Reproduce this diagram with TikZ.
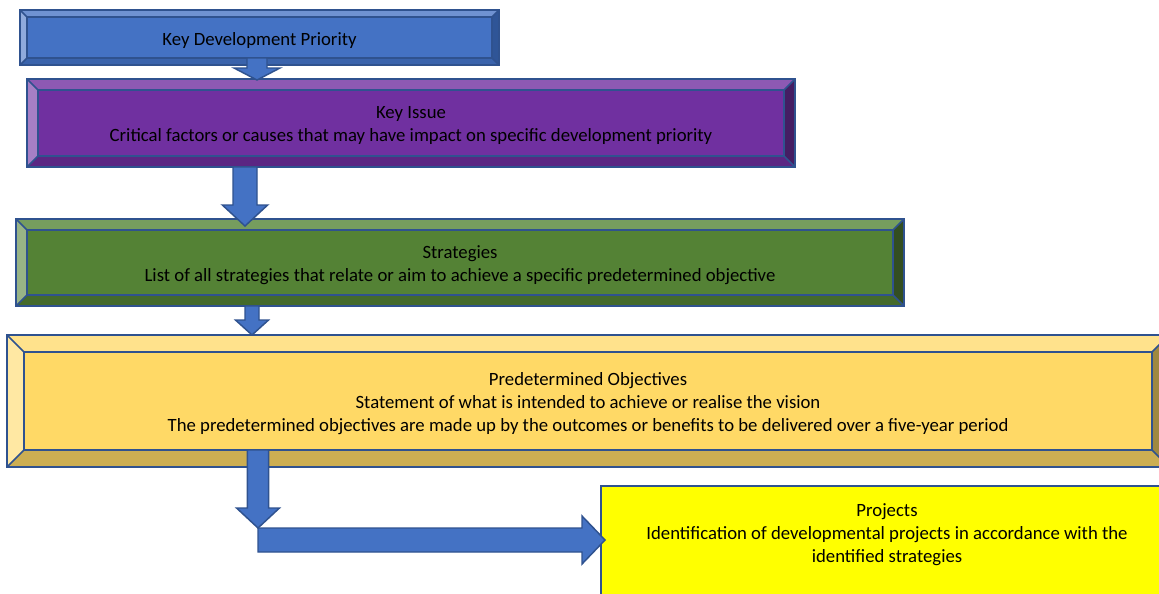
\documentclass[tikz,border=0pt]{standalone}
\usepackage{fontspec}
\setmainfont{Carlito}
\usetikzlibrary{calc}
\definecolor{edge}{HTML}{2F528F}
\definecolor{flowblue}{HTML}{4472C4}
\definecolor{kdpfill}{HTML}{4472C4}
\definecolor{kdptop}{HTML}{6F92D2}
\definecolor{kdpleft}{HTML}{8FAADC}
\definecolor{kdpbottom}{HTML}{3A63AC}
\definecolor{kdpright}{HTML}{2F5597}
\definecolor{issuefill}{HTML}{7030A0}
\definecolor{issuetop}{HTML}{8D59B3}
\definecolor{issueleft}{HTML}{A67FC5}
\definecolor{issuebottom}{HTML}{5B2683}
\definecolor{issueright}{HTML}{451D63}
\definecolor{stratfill}{HTML}{548235}
\definecolor{strattop}{HTML}{769D5E}
\definecolor{stratleft}{HTML}{98B486}
\definecolor{stratbottom}{HTML}{446A2B}
\definecolor{stratright}{HTML}{334E21}
\definecolor{objfill}{HTML}{FFD966}
\definecolor{objtop}{HTML}{FFE28C}
\definecolor{objleft}{HTML}{FFE8A3}
\definecolor{objbottom}{HTML}{CCAE52}
\definecolor{objright}{HTML}{9F8840}
\definecolor{projfill}{HTML}{FFFF00}
\newcommand{\boxfont}{\fontsize{14.05}{17.25}\selectfont}
\tikzset{
  panel/.style={draw=edge, line width=1.1pt, inner sep=0pt, outer sep=0pt},
  boxtext/.style={font=\boxfont, align=center, yshift=-1.9pt},
  edgeline/.style={draw=edge, line width=1.1pt, line join=round},
  flow/.style={fill=flowblue, draw=edge, line width=1.1pt, line join=miter}
}
% bevel: node, depth, top, left, bottom, right
\newcommand{\bevel}[6]{%
  \fill[#3] (#1.north west) -- (#1.north east) -- ([shift={(-#2,-#2)}]#1.north east) -- ([shift={(#2,-#2)}]#1.north west) -- cycle;
  \fill[#4] (#1.north west) -- ([shift={(#2,-#2)}]#1.north west) -- ([shift={(#2,#2)}]#1.south west) -- (#1.south west) -- cycle;
  \fill[#5] (#1.south west) -- ([shift={(#2,#2)}]#1.south west) -- ([shift={(-#2,#2)}]#1.south east) -- (#1.south east) -- cycle;
  \fill[#6] (#1.south east) -- ([shift={(-#2,#2)}]#1.south east) -- ([shift={(-#2,-#2)}]#1.north east) -- (#1.north east) -- cycle;
  \draw[edgeline] ([shift={(#2,-#2)}]#1.north west) rectangle ([shift={(-#2,#2)}]#1.south east);
  \draw[edgeline] (#1.north west) -- ([shift={(#2,-#2)}]#1.north west)
    (#1.north east) -- ([shift={(-#2,-#2)}]#1.north east)
    (#1.south west) -- ([shift={(#2,#2)}]#1.south west)
    (#1.south east) -- ([shift={(-#2,#2)}]#1.south east);
  \draw[edgeline] (#1.north west) rectangle (#1.south east);
}
% block arrow: from, to, shaft half width, head half width, head length
\newcommand{\blockarrow}[5]{%
  \coordinate (hb) at ($(#2)!#5!(#1)$);
  \filldraw[flow] ($(#1)!#3!90:(#2)$) -- ($(hb)!#3!90:(#2)$) -- ($(hb)!#4!90:(#2)$) -- (#2)
    -- ($(hb)!#4!-90:(#2)$) -- ($(hb)!#3!-90:(#2)$) -- ($(#1)!#3!-90:(#2)$) -- cycle;
}

\begin{document}
\begin{tikzpicture}[x=0.75pt,y=-0.75pt]
\useasboundingbox (0,0) rectangle (1159,593);
\clip (0,0) rectangle (1159,593);

\node (kdp) [panel, fill=kdpfill, minimum width=359.25pt, minimum height=41.25pt] at (259.5,37.5) {};
\bevel{kdp}{5.25pt}{kdptop}{kdpleft}{kdpbottom}{kdpright}
\node (kdptext) [boxtext] at (kdp) {Key Development Priority};

\node (issue) [panel, fill=issuefill, minimum width=576pt, minimum height=66pt] at (411,123) {};
\bevel{issue}{8.25pt}{issuetop}{issueleft}{issuebottom}{issueright}
\node (issuetext) [boxtext] at (issue) {Key Issue\\Critical factors or causes that may have impact on specific development priority};

\node (strat) [panel, fill=stratfill, minimum width=666pt, minimum height=65.25pt] at (460,262.5) {};
\bevel{strat}{8.25pt}{strattop}{stratleft}{stratbottom}{stratright}
\node (strattext) [boxtext] at (strat) {Strategies\\List of all strategies that relate or aim to achieve a specific predetermined objective};

\node (obj) [panel, fill=objfill, minimum width=871.5pt, minimum height=99pt] at (588,401) {};
\bevel{obj}{12.75pt}{objtop}{objleft}{objbottom}{objright}
\node (objtext) [boxtext] at (obj) {Predetermined Objectives\\Statement of what is intended to achieve or realise the vision\\The predetermined objectives are made up by the outcomes or benefits to be delivered over a five-year period};

\node (proj) [panel, fill=projfill, anchor=north west, minimum width=430pt, minimum height=120pt] at (601,486) {};
\node (projtext) [boxtext] at (887,532) {Projects\\Identification of developmental projects in accordance with the\\identified strategies};

% arrow columns
\coordinate (c1) at (257,0);
\coordinate (c2) at (245,0);
\coordinate (c3) at (252,0);
\coordinate (c4) at (258,0);
\coordinate (bend) at (258,540);

\coordinate (a1s) at ($(kdp.south -| c1)+(0,5.25pt)$);
\coordinate (a1e) at ($(issue.north -| c1)+(0,-0.75pt)$);
\blockarrow{a1s}{a1e}{7.5pt}{17.25pt}{9pt}

\coordinate (a2s) at (issue.south -| c2);
\coordinate (a2e) at ($(strat.north -| c2)+(0,-5.25pt)$);
\blockarrow{a2s}{a2e}{9pt}{17pt}{15.75pt}

\coordinate (a3s) at (strat.south -| c3);
\coordinate (a3e) at (obj.north -| c3);
\blockarrow{a3s}{a3e}{5.25pt}{12.4pt}{11.25pt}

\coordinate (a4s) at ($(obj.south -| c4)+(0,12.75pt)$);
\coordinate (a4e) at ($(bend)+(0,9pt)$);
\blockarrow{a4s}{a4e}{7.9pt}{16.1pt}{15pt}

\coordinate (a5e) at ($(proj.west |- bend)+(3pt,0)$);
\blockarrow{bend}{a5e}{9pt}{18pt}{17.25pt}
\end{tikzpicture}
\end{document}
